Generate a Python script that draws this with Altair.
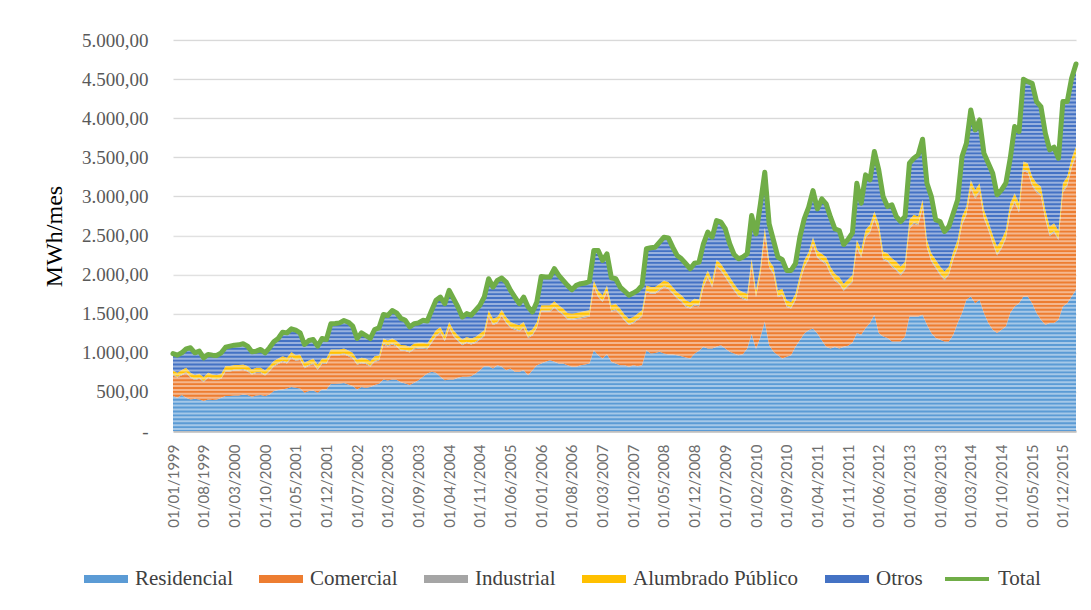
import altair as alt
import pandas as pd

# Monthly categories: 01/01/1999 ... 01/03/2016
fechas = [f"01/{m % 12 + 1:02d}/{1999 + m // 12}" for m in range(207)]
etiquetas = fechas[::7]

residencial = [
    447, 426, 460, 426, 404, 413, 404, 383, 404, 396,
    404, 426, 447, 447, 455, 455, 468, 460, 438, 455,
    460, 447, 468, 511, 523, 532, 545, 562, 553, 545,
    489, 511, 519, 489, 532, 532, 604, 604, 609, 613,
    596, 575, 532, 562, 553, 562, 587, 604, 660, 647,
    660, 655, 623, 608, 587, 616, 650, 693, 736, 757,
    744, 693, 650, 659, 659, 680, 693, 693, 701, 736,
    778, 829, 829, 799, 842, 821, 778, 799, 757, 757,
    778, 714, 778, 842, 863, 884, 906, 884, 863, 863,
    842, 821, 821, 842, 850, 863, 1033, 969, 927, 982,
    884, 863, 842, 842, 821, 842, 829, 842, 1033, 991,
    999, 1012, 991, 978, 978, 969, 957, 940, 927, 991,
    1025, 1076, 1054, 1054, 1076, 1097, 1054, 1012, 991, 969,
    982, 1054, 1240, 1050, 1200, 1400, 1097, 1012, 969, 927,
    948, 969, 1076, 1161, 1246, 1288, 1310, 1246, 1161, 1076,
    1054, 1076, 1054, 1076, 1090, 1130, 1252, 1231, 1316, 1380,
    1486, 1252, 1210, 1188, 1146, 1146, 1146, 1210, 1465, 1465,
    1465, 1486, 1359, 1252, 1188, 1167, 1146, 1146, 1231, 1380,
    1508, 1678, 1721, 1635, 1678, 1508, 1380, 1295, 1252, 1295,
    1337, 1508, 1593, 1635, 1721, 1721, 1635, 1508, 1422, 1359,
    1380, 1380, 1422, 1593, 1635, 1721, 1806,
]

comercial = [
    263, 257, 253, 315, 278, 240, 264, 245, 276, 263,
    248, 241, 315, 315, 319, 319, 313, 302, 284, 288,
    282, 263, 294, 313, 333, 351, 319, 373, 344, 362,
    315, 322, 339, 294, 325, 325, 365, 365, 360, 367,
    360, 353, 314, 304, 305, 263, 298, 294, 446, 434,
    446, 424, 403, 415, 416, 428, 403, 360, 308, 369,
    466, 559, 498, 656, 551, 468, 402, 434, 405, 390,
    390, 380, 632, 557, 535, 649, 599, 517, 538, 517,
    538, 476, 444, 474, 661, 640, 618, 690, 661, 620,
    585, 599, 607, 598, 603, 598, 806, 743, 723, 794,
    640, 682, 641, 567, 536, 535, 591, 619, 742, 763,
    755, 783, 846, 838, 776, 721, 692, 646, 638, 615,
    568, 760, 908, 782, 1021, 949, 908, 866, 803, 750,
    708, 615, 868, 663, 808, 1104, 992, 993, 742, 806,
    637, 596, 593, 738, 841, 903, 1070, 967, 1009, 1053,
    948, 842, 822, 716, 757, 771, 1094, 987, 1155, 1155,
    1217, 1304, 977, 975, 950, 908, 844, 849, 1120, 1184,
    1166, 1362, 981, 915, 892, 828, 783, 849, 961, 960,
    1127, 1083, 1377, 1335, 1378, 1210, 1189, 1102, 992, 1035,
    1123, 1284, 1327, 1159, 1602, 1581, 1499, 1542, 1583, 1350,
    1114, 1157, 1019, 1454, 1497, 1643, 1705,
]

industrial = [
    12, 12, 13, 13, 12, 12, 12, 11, 12, 12,
    12, 12, 13, 13, 13, 13, 13, 13, 12, 12,
    13, 12, 13, 13, 14, 14, 14, 14, 14, 14,
    13, 13, 13, 13, 14, 14, 14, 14, 14, 14,
    14, 14, 13, 13, 13, 13, 14, 14, 15, 15,
    15, 15, 14, 14, 14, 14, 14, 14, 14, 15,
    15, 15, 15, 15, 15, 15, 14, 15, 15, 15,
    15, 15, 16, 16, 16, 16, 16, 15, 15, 15,
    15, 15, 15, 15, 16, 16, 16, 16, 16, 16,
    16, 16, 16, 16, 16, 16, 17, 17, 17, 17,
    16, 16, 16, 16, 16, 16, 16, 16, 17, 17,
    17, 17, 17, 17, 17, 17, 17, 17, 17, 17,
    17, 18, 18, 18, 18, 18, 18, 18, 18, 17,
    17, 17, 18, 17, 18, 18, 18, 18, 17, 17,
    17, 17, 17, 18, 18, 18, 19, 18, 18, 18,
    18, 18, 18, 18, 18, 18, 19, 19, 19, 19,
    20, 19, 19, 19, 19, 19, 19, 19, 20, 20,
    20, 20, 20, 19, 19, 19, 19, 19, 19, 20,
    20, 20, 21, 21, 21, 20, 20, 20, 20, 20,
    20, 21, 21, 21, 22, 22, 22, 21, 21, 21,
    21, 21, 21, 22, 22, 22, 22,
]

alumbrado = [
    52, 50, 53, 55, 51, 50, 52, 50, 53, 52,
    51, 53, 55, 55, 56, 56, 57, 55, 53, 54,
    54, 52, 55, 57, 58, 60, 58, 60, 59, 58,
    55, 56, 57, 55, 57, 57, 60, 60, 60, 61,
    60, 58, 56, 57, 57, 56, 58, 58, 62, 61,
    62, 61, 60, 60, 59, 60, 60, 60, 60, 62,
    63, 64, 62, 65, 63, 62, 60, 61, 61, 62,
    63, 64, 66, 65, 65, 66, 65, 64, 63, 63,
    64, 62, 63, 64, 67, 67, 67, 68, 67, 66,
    66, 65, 65, 66, 66, 66, 70, 69, 68, 69,
    67, 67, 66, 65, 64, 65, 65, 66, 70, 70,
    70, 71, 72, 72, 70, 70, 69, 68, 68, 69,
    69, 72, 74, 72, 75, 75, 74, 73, 72, 71,
    70, 70, 74, 70, 74, 78, 74, 73, 70, 70,
    69, 68, 70, 73, 76, 78, 80, 78, 78, 77,
    76, 75, 75, 74, 75, 76, 80, 80, 82, 82,
    84, 83, 90, 92, 95, 95, 95, 90, 95, 95,
    92, 88, 85, 88, 90, 90, 92, 90, 85, 85,
    88, 90, 92, 92, 92, 90, 90, 92, 95, 95,
    92, 100, 100, 98, 100, 100, 98, 98, 100, 98,
    100, 100, 98, 100, 100, 102, 104,
]

otros = [
    216, 225, 221, 241, 319, 285, 289, 247, 234, 247,
    251, 268, 242, 255, 255, 259, 264, 255, 226, 212,
    234, 226, 234, 246, 255, 307, 319, 297, 319, 276,
    234, 255, 242, 234, 255, 242, 327, 331, 340, 358,
    361, 340, 268, 319, 293, 289, 341, 349, 306, 320,
    357, 355, 340, 319, 255, 255, 255, 289, 289, 340,
    383, 382, 403, 403, 404, 361, 289, 298, 298, 340,
    361, 425, 404, 404, 468, 404, 447, 403, 340, 276,
    318, 319, 222, 255, 370, 362, 362, 417, 383, 361,
    353, 306, 353, 362, 357, 370, 383, 511, 446, 404,
    353, 319, 276, 300, 298, 306, 297, 319, 468, 502,
    510, 532, 553, 565, 510, 468, 467, 468, 425, 455,
    481, 468, 489, 553, 501, 531, 531, 425, 374, 395,
    447, 510, 555, 721, 800, 708, 468, 340, 426, 370,
    383, 404, 383, 489, 532, 574, 595, 531, 702, 680,
    638, 574, 595, 501, 510, 540, 724, 596, 703, 575,
    766, 681, 702, 597, 682, 575, 575, 575, 724, 724,
    788, 775, 724, 724, 511, 575, 511, 511, 489, 511,
    766, 809, 895, 767, 809, 724, 745, 787, 661, 638,
    597, 575, 852, 916, 1052, 1044, 1192, 1043, 1022, 980,
    980, 971, 928, 1043, 958, 1022, 1056,
]

total = [
    990, 970, 1000, 1050, 1064, 1000, 1021, 936, 979, 970,
    966, 1000, 1072, 1085, 1098, 1102, 1115, 1085, 1013, 1021,
    1043, 1000, 1064, 1140, 1183, 1264, 1255, 1306, 1289, 1255,
    1106, 1157, 1170, 1085, 1183, 1170, 1370, 1374, 1383, 1413,
    1391, 1340, 1183, 1255, 1221, 1183, 1298, 1319, 1489, 1477,
    1540, 1510, 1440, 1416, 1331, 1373, 1382, 1416, 1407, 1543,
    1671, 1713, 1628, 1798, 1692, 1586, 1458, 1501, 1480, 1543,
    1607, 1713, 1947, 1841, 1926, 1956, 1905, 1798, 1713, 1628,
    1713, 1586, 1522, 1650, 1977, 1969, 1969, 2075, 1990, 1926,
    1862, 1807, 1862, 1884, 1892, 1913, 2309, 2309, 2181, 2266,
    1960, 1947, 1841, 1790, 1735, 1764, 1798, 1862, 2330, 2343,
    2351, 2415, 2479, 2470, 2351, 2245, 2202, 2139, 2075, 2147,
    2160, 2394, 2543, 2479, 2691, 2670, 2585, 2394, 2258, 2202,
    2224, 2266, 2755, 2521, 2900, 3308, 2649, 2436, 2224, 2190,
    2054, 2054, 2139, 2479, 2713, 2861, 3074, 2840, 2968, 2904,
    2734, 2585, 2564, 2385, 2450, 2535, 3169, 2913, 3275, 3211,
    3573, 3339, 2998, 2871, 2892, 2743, 2679, 2743, 3424, 3488,
    3531, 3731, 3169, 2998, 2700, 2679, 2551, 2615, 2785, 2956,
    3509, 3680, 4106, 3850, 3978, 3552, 3424, 3296, 3020, 3083,
    3169, 3488, 3893, 3829, 4497, 4468, 4446, 4212, 4148, 3808,
    3595, 3629, 3488, 4212, 4212, 4510, 4693,
]

series = ["Residencial", "Comercial", "Industrial", "Alumbrado Público", "Otros"]
colores = ["#5B9BD5", "#ED7D31", "#A5A5A5", "#FFC000", "#4472C4"]
valores = [residencial, comercial, industrial, alumbrado, otros]

rows = []
for k, (nombre, vals) in enumerate(zip(series, valores)):
    for f, v in zip(fechas, vals):
        rows.append({"fecha": f, "serie": nombre, "orden": k, "valor": v})
df = pd.DataFrame(rows)
df_total = pd.DataFrame({"fecha": fechas, "serie": "Total", "valor": total})

# decorative horizontal hatching (Excel-like striped fill), in data units
df_franjas = pd.DataFrame({"y": list(range(25, 5000, 50))})

x_scale = alt.Scale(type="point", padding=0)
y_scale = alt.Scale(domain=[0, 5000], nice=False)

y_label_expr = (
    "datum.value == 0 ? '-' : replace(replace(replace(format(datum.value, ',.2f'), ',', '#'), '.', ','), '#', '.')"
)

x_axis = alt.Axis(
    values=etiquetas,
    labelAngle=270,
    title=None,
    labelFont="Lato",
    labelFontSize=15,
    labelColor="#6E6E6E",
    labelPadding=13,
    labelOverlap=False,
    ticks=False,
    domainColor="#BFBFBF",
    domainWidth=2.5,
    grid=False,
)

y_axis = alt.Axis(
    values=list(range(0, 5001, 500)),
    labelExpr=y_label_expr,
    labelFont="Liberation Serif",
    labelFontSize=19,
    labelColor="#595959",
    labelPadding=25,
    ticks=False,
    domain=False,
    grid=True,
    gridColor="#D9D9D9",
    gridWidth=1.5,
    title="MWh/mes",
    titleFont="Liberation Serif",
    titleFontSize=24,
    titleFontWeight="normal",
    titleColor="#000000",
    titleAngle=270,
    titleAlign="center",
    titleBaseline="middle",
    titleX=-119,
    titleY=196,
)

leyenda_comun = dict(
    title=None,
    orient="none",
    labelFont="Liberation Serif",
    labelFontSize=21,
    labelColor="#404040",
    labelOffset=7,
    labelLimit=400,
    symbolSize=1936,
)

areas = alt.Chart(df).mark_area(opacity=1).encode(
    x=alt.X("fecha:O", sort=fechas, scale=x_scale, axis=x_axis),
    y=alt.Y("valor:Q", stack="zero", scale=y_scale, axis=y_axis),
    fill=alt.Fill(
        "serie:N",
        scale=alt.Scale(domain=series, range=colores),
        legend=alt.Legend(
            direction="horizontal",
            legendX=-89,
            legendY=517,
            symbolType="M-1,-0.18H1V0.18H-1Z",
            symbolStrokeWidth=0,
            columnPadding=26,
            **leyenda_comun,
        ),
    ),
    order=alt.Order("orden:Q", sort="ascending"),
)

franjas = alt.Chart(df_franjas).mark_rule(color="white", strokeWidth=2, opacity=0.45).encode(
    y=alt.Y("y:Q", scale=y_scale, axis=y_axis),
    x=alt.value(0),
    x2=alt.value("width"),
)

linea = alt.Chart(df_total).mark_line(strokeWidth=5, strokeJoin="round", strokeCap="round").encode(
    x=alt.X("fecha:O", sort=fechas, scale=x_scale, axis=x_axis),
    y=alt.Y("valor:Q", scale=y_scale, axis=y_axis),
    stroke=alt.Stroke(
        "serie:N",
        scale=alt.Scale(domain=["Total"], range=["#70AD47"]),
        legend=alt.Legend(
            legendX=770,
            legendY=515,
            symbolType="stroke",
            symbolStrokeWidth=4,
            **leyenda_comun,
        ),
    ),
)

chart = alt.layer(areas, franjas, linea).properties(
    width=903,
    height=391,
    autosize=alt.AutoSizeParams(type="none"),
    padding={"left": 165, "top": 32, "right": 5, "bottom": 170},
    background="white",
).configure_view(stroke=None)

chart.save("out.html", embed_options={"renderer": "svg", "actions": False})
